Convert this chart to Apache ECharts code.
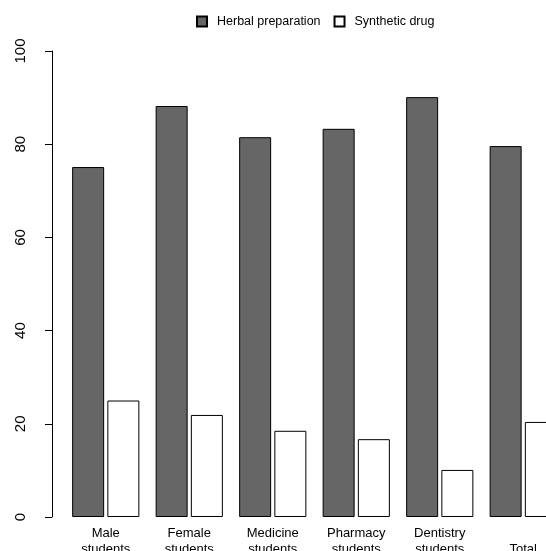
<!DOCTYPE html>
<html>
<head>
<meta charset="utf-8">
<script src="https://cdn.jsdelivr.net/npm/echarts@6/dist/echarts.min.js"></script>
<style>
    html, body { margin: 0; padding: 0; background: #fff; }
    #chart { width: 546px; height: 551px; }
</style>
</head>
<body>
<div id="chart"></div>
<script>
const categories = ["Male\nstudents", "Female\nstudents", "Medicine\nstudents", "Pharmacy\nstudents", "Dentistry\nstudents", "Total"];
const herbal = [75.1, 88.2, 81.5, 83.3, 90.1, 79.6];
const synthetic = [25.0, 21.9, 18.5, 16.7, 10.1, 20.4];
const seriesNames = ["Herbal preparation", "Synthetic drug"];
const yTicks = { min: 0, max: 100, interval: 20 };

const font = "Liberation Sans, Arial, sans-serif";
const chart = echarts.init(document.getElementById("chart"));

chart.setOption({
    animation: false,
    textStyle: { fontFamily: font, color: "#000" },
    legend: {
        top: 10,
        left: 191,
        itemWidth: 10,
        itemHeight: 10,
        itemGap: 13,
        icon: "rect",
        textStyle: {
            fontSize: 12.5,
            color: "#000",
            fontFamily: font,
            padding: [0, 0, 0, 5]
        },
        data: seriesNames
    },
    grid: {
        left: 64,
        top: 51,
        width: 501,
        height: 466,
        containLabel: false,
        outerBoundsMode: "none"
    },
    xAxis: {
        type: "category",
        data: categories,
        axisLine: { show: false },
        axisTick: { show: false },
        axisLabel: {
            interval: 0,
            margin: 8,
            fontSize: 13,
            lineHeight: 16,
            color: "#000",
            fontFamily: font,
            formatter: v => (v.indexOf("\n") >= 0 ? v : "\n" + v)
        }
    },
    yAxis: {
        type: "value",
        min: yTicks.min,
        max: yTicks.max,
        interval: yTicks.interval,
        offset: 12,
        splitLine: { show: false },
        axisLine: { show: true, lineStyle: { color: "#000", width: 1 } },
        axisTick: { show: true, length: 7, lineStyle: { color: "#000" } },
        axisLabel: {
            rotate: 90,
            margin: 24,
            fontSize: 15,
            color: "#000",
            fontFamily: font
        }
    },
    series: [
        {
            name: seriesNames[0],
            type: "bar",
            data: herbal,
            barWidth: 32,
            barGap: "10%",
            itemStyle: { color: "#666666", borderColor: "#000", borderWidth: 1 }
        },
        {
            name: seriesNames[1],
            type: "bar",
            data: synthetic,
            barWidth: 32,
            barGap: "10%",
            itemStyle: { color: "#ffffff", borderColor: "#000", borderWidth: 1 }
        }
    ]
});
</script>
</body>
</html>
